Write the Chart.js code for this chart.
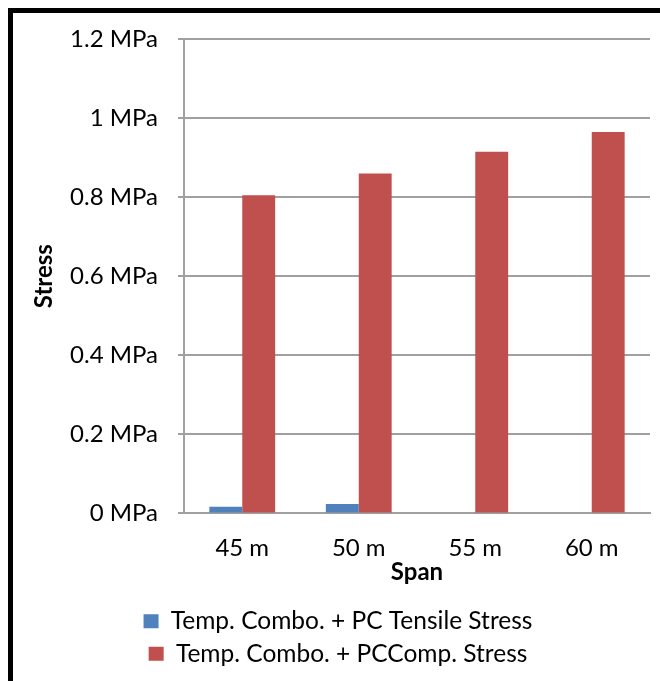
<!DOCTYPE html>
<html>
<head>
<meta charset="utf-8">
<script src="https://cdn.jsdelivr.net/npm/chart.js@4.4.1/dist/chart.umd.min.js"></script>
<style>
  html, body { margin: 0; padding: 0; background: #fff; overflow: hidden; }
  #wrap { position: relative; width: 660px; height: 681px; }
  #frame {
    position: absolute; left: 8px; top: 8px; width: 700px; height: 700px;
    border-left: 5px solid #000; border-top: 5px solid #000; pointer-events: none;
  }
  canvas { position: absolute; left: 0; top: 0; }
</style>
</head>
<body>
<div id="wrap">
  <canvas id="chart" width="660" height="681"></canvas>
  <div id="frame"></div>
</div>
<script>
// 데이터
const spans = ['45 m', '50 m', '55 m', '60 m'];
const tensileStress = [0.017, 0.024, 0, 0];
const compStress = [0.805, 0.86, 0.915, 0.965];
const yTickLabels = ['0 MPa', '0.2 MPa', '0.4 MPa', '0.6 MPa', '0.8 MPa', '1 MPa', '1.2 MPa'];
const seriesNames = ['Temp. Combo. + PC Tensile Stress', 'Temp. Combo. + PCComp. Stress'];

const FONT = 'Lato, "Open Sans", sans-serif';
const gridColor = '#a0a0a0';

const ctx = document.getElementById('chart').getContext('2d');
new Chart(ctx, {
    type: 'bar',
    data: {
        labels: spans,
        datasets: [
            { label: seriesNames[0], data: tensileStress, backgroundColor: '#4f81bd' },
            { label: seriesNames[1], data: compStress, backgroundColor: '#c0504d' }
        ]
    },
    options: {
        responsive: false,
        animation: false,
        layout: { padding: { top: 39, right: 10, left: 26, bottom: 5 } },
        datasets: { bar: { barPercentage: 1, categoryPercentage: 0.565 } },
        plugins: {
            tooltip: { enabled: false },
            legend: {
                position: 'bottom',
                labels: {
                    font: { family: FONT, size: 24.5 },
                    color: '#000',
                    boxWidth: 15,
                    boxHeight: 14,
                    padding: 8
                }
            }
        },
        scales: {
            x: {
                grid: { display: false, drawTicks: true, tickLength: 8 },
                border: { color: gridColor, width: 2 },
                ticks: { font: { family: FONT, size: 24 }, color: '#000', padding: 12 },
                title: {
                    display: true, text: 'Span',
                    font: { family: FONT, size: 24, weight: 'bold' }, color: '#000',
                    padding: { top: -16, bottom: 14 }
                }
            },
            y: {
                min: 0, max: 1.2,
                afterFit: s => { s.width = 158; },
                grid: { color: gridColor, lineWidth: 2, tickLength: 6 },
                border: { color: gridColor, width: 2 },
                ticks: {
                    stepSize: 0.2,
                    font: { family: FONT, size: 24 }, color: '#000', padding: 20,
                    callback: (v, i) => yTickLabels[i]
                },
                title: {
                    display: true, text: 'Stress',
                    font: { family: FONT, size: 24, weight: 'bold' }, color: '#000',
                    padding: { top: 4, bottom: 0 }
                }
            }
        }
    }
});
</script>
</body>
</html>
